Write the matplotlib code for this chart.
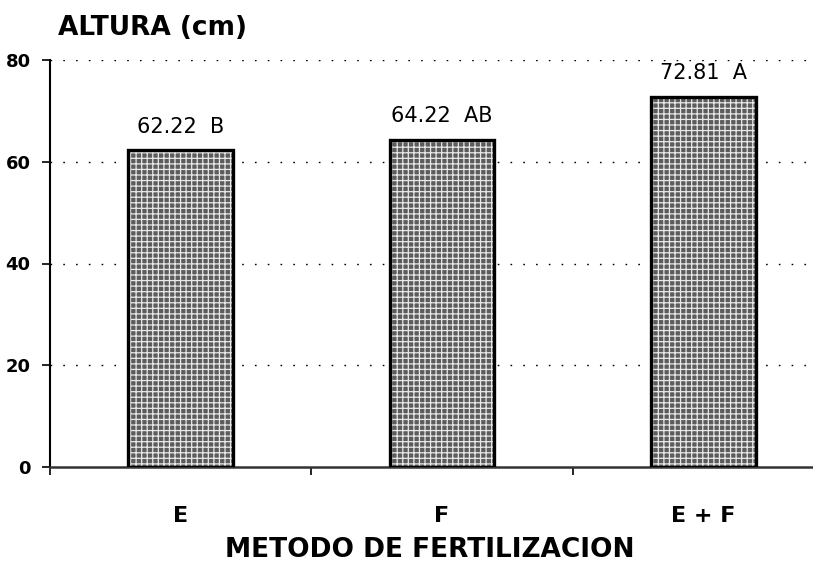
import matplotlib
matplotlib.use("Agg")
import matplotlib.pyplot as plt
import numpy as np

categories = ["E", "F", "E + F"]
values = [62.22, 64.22, 72.81]
letters = ["B", "AB", "A"]
yticks = [0, 20, 40, 60, 80]

plt.rcParams['font.family'] = ['DejaVu Sans']
plt.rcParams['hatch.linewidth'] = 0.9

fig = plt.figure(figsize=(8.13, 5.71), dpi=100)
W, H = 813, 571
ax = fig.add_axes([50 / W, (H - 467) / H, (813 - 50) / W, (467 - 60) / H])

x = np.arange(len(categories))
ax.bar(x, values, width=0.4, color="#5c5c5c", hatch="+++", edgecolor="#e8e8e8",
       linewidth=0, zorder=2)
ax.bar(x, values, width=0.4, fill=False, edgecolor="black", linewidth=2.4, zorder=3)

for xi, v, l in zip(x, values, letters):
    ax.annotate(f"{v:.2f}  {l}", (xi, v), xytext=(0, 10), textcoords="offset points",
                ha="center", va="bottom", fontsize=15, color="black")

ax.set_xlim(-0.5, 2.42)
ax.set_ylim(0, 80)
ax.set_yticks(yticks)
ax.set_yticklabels([str(t) for t in yticks], fontsize=13, fontweight="bold")
ax.tick_params(axis="y", length=6, width=1.2, pad=8)

ax.set_xticks([-0.5, 0.5, 1.5])
ax.set_xticklabels([])
ax.tick_params(axis="x", which="major", length=6, width=1.2, direction="out")
ax.set_xticks(x, minor=True)
ax.set_xticklabels(categories, minor=True, fontsize=16, fontweight="bold")
ax.tick_params(axis="x", which="minor", length=0, pad=28)

for y in yticks[1:]:
    ax.axhline(y, color="black", linestyle=(0, (1.2, 8)), linewidth=1.0, zorder=1)

for s in ["top", "right"]:
    ax.spines[s].set_visible(False)
ax.spines["left"].set_linewidth(1.5)
ax.spines["bottom"].set_linewidth(1.8)
ax.spines["bottom"].set_color("#333333")

fig.text(58 / W, 1 - 28 / H, "ALTURA (cm)", fontsize=19, fontweight="bold",
         ha="left", va="center")
fig.text(430 / W, 1 - 550 / H, "METODO DE FERTILIZACION", fontsize=19,
         fontweight="bold", ha="center", va="center")

fig.savefig("out.png", dpi=100)
